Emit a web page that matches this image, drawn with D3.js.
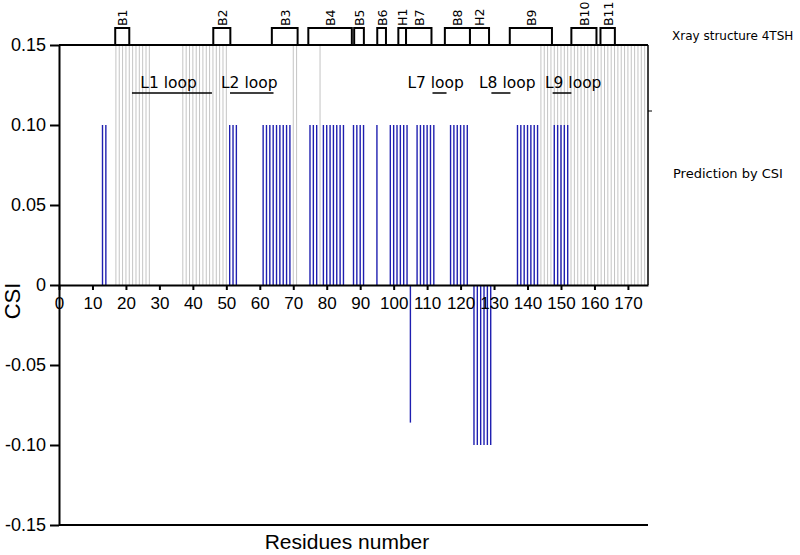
<!DOCTYPE html>
<html>
<head>
<meta charset="utf-8">
<script src="https://cdn.jsdelivr.net/npm/d3@7"></script>
<style>
  html, body { margin: 0; padding: 0; background: #fff; }
  svg { display: block; }
</style>
</head>
<body>
<svg id="chart" width="800" height="555"></svg>
<script>
// ---------------- DATA ----------------
// Residues marked in grey (X-ray structure loop regions), drawn to 0.15
const grayResidues = [17,18,19,20,21,22,23,24,25,26,27,
  37,38,39,40,41,42,43,44,45,46,47,48,49,50,
  70,71,78,
  144,145,146,147,148,149,150,151,152,153,154,155,156,157,158,159,160,
  161,162,163,164,165,166,167,168,169,170,171,172,173,174,175];
const grayValue = 0.15;

// CSI prediction bars (blue)
const csiResidues = [13,14,51,52,53,61,62,63,64,65,66,67,68,69,
  75,76,77,79,80,81,82,83,84,85,88,89,90,91,95,
  99,100,101,102,103,104,105,107,108,109,110,111,112,
  117,118,119,120,121,122,124,125,126,127,128,129,
  137,138,139,140,141,142,143,148,149,150,151,152];
const csiValues = [0.1,0.1,0.1,0.1,0.1,0.1,0.1,0.1,0.1,0.1,0.1,0.1,0.1,0.1,
  0.1,0.1,0.1,0.1,0.1,0.1,0.1,0.1,0.1,0.1,0.1,0.1,0.1,0.1,0.1,
  0.1,0.1,0.1,0.1,0.1,0.1,-0.086,0.1,0.1,0.1,0.1,0.1,0.1,
  0.1,0.1,0.1,0.1,0.1,0.1,-0.1,-0.1,-0.1,-0.1,-0.1,-0.1,
  0.1,0.1,0.1,0.1,0.1,0.1,0.1,0.1,0.1,0.1,0.1,0.1];

// Secondary structure elements (X-ray structure 4TSH)
const structLabels = ["B1","B2","B3","B4","B5","B6","H1","B7","B8","H2","B9","B10","B11"];
const structStart  = [16.8, 46.1, 63.6, 74.5, 88.2, 95.1, 101.4, 103.7, 115.3, 122.8, 134.7, 153.1, 161.8];
const structEnd    = [21.0, 51.2, 71.3, 87.5, 91.1, 97.7, 103.7, 111.3, 122.8, 128.5, 147.3, 160.6, 166.1];

// Loop annotations
const loopLabels    = ["L1 loop","L2 loop","L7 loop","L8 loop","L9 loop"];
const loopTextStart = [24.3, 48.4, 104.1, 125.5, 145.2];
const loopLineStart = [21.8, 51.1, 111.6, 129.2, 147.5];
const loopLineEnd   = [45.7, 64.1, 115.8, 134.9, 153.1];

const xTicks = [0,10,20,30,40,50,60,70,80,90,100,110,120,130,140,150,160,170];
const yTicks = [0.15,0.10,0.05,0,-0.05,-0.10,-0.15];
const yTickLabels = ["0.15","0.10","0.05","0","-0.05","-0.10","-0.15"];

// ---------------- LAYOUT ----------------
const svg = d3.select("#chart");
const pL = 59, pR = 648, pT = 45, pB = 525;
const x = d3.scaleLinear().domain([0, 176]).range([pL, pR]);
const y = d3.scaleLinear().domain([-0.15, 0.15]).range([pB, pT]);

const blue = "#1f1fb0";
const gray = "#c4c4c4";
const sans = "'Liberation Sans', Arial, sans-serif";
const verd = "'DejaVu Sans', Verdana, sans-serif";

// grey bars
svg.append("g").selectAll("line").data(grayResidues).join("line")
  .attr("x1", d => x(d)).attr("x2", d => x(d))
  .attr("y1", y(0)).attr("y2", y(grayValue))
  .attr("stroke", gray).attr("stroke-width", 1);

// blue CSI bars
svg.append("g").selectAll("line").data(csiResidues.map((r, i) => ({r, v: csiValues[i]}))).join("line")
  .attr("x1", d => x(d.r)).attr("x2", d => x(d.r))
  .attr("y1", y(0)).attr("y2", d => y(d.v))
  .attr("stroke", blue).attr("stroke-width", 1.4);

// Frame: top, right, bottom
svg.append("line").attr("x1", pL).attr("x2", pR).attr("y1", pT).attr("y2", pT)
  .attr("stroke", "#000").attr("stroke-width", 2);
svg.append("line").attr("x1", pR).attr("x2", pR).attr("y1", pT).attr("y2", y(0))
  .attr("stroke", "#000").attr("stroke-width", 1.5);
svg.append("line").attr("x1", pR).attr("x2", pR + 4).attr("y1", 111).attr("y2", 111)
  .attr("stroke", "#000").attr("stroke-width", 1);
svg.append("line").attr("x1", pL).attr("x2", pR).attr("y1", pB).attr("y2", pB)
  .attr("stroke", "#000").attr("stroke-width", 2);

// Y axis
const yAxis = d3.axisLeft(y).tickValues(yTicks).tickSize(9).tickSizeOuter(0).tickPadding(4)
  .tickFormat((d, i) => yTickLabels[i]);
const gy = svg.append("g").attr("transform", `translate(${pL},0)`).call(yAxis);
gy.select(".domain").attr("stroke-width", 2);
gy.selectAll(".tick line").attr("stroke-width", 2);
gy.selectAll("text").attr("font-family", sans).attr("font-size", 18).attr("fill", "#000");

// X axis on zero line
const xAxis = d3.axisBottom(x).tickValues(xTicks).tickSize(5).tickSizeOuter(0).tickPadding(7);
const gx = svg.append("g").attr("transform", `translate(0,${y(0)})`).call(xAxis);
gx.select(".domain").attr("stroke-width", 2);
gx.selectAll(".tick line").attr("stroke-width", 2);
gx.selectAll("text").attr("font-family", sans).attr("font-size", 17).attr("fill", "#000");

// Secondary-structure boxes
const sg = svg.append("g");
structLabels.forEach((lab, i) => {
  const x0 = x(structStart[i]), x1 = x(structEnd[i]);
  sg.append("rect").attr("x", x0).attr("y", pT - 17).attr("width", x1 - x0).attr("height", 17)
    .attr("fill", "#fff").attr("stroke", "#000").attr("stroke-width", 2);
  sg.append("text")
    .attr("transform", `translate(${(x0 + x1) / 2 + 5},${pT - 19}) rotate(-90)`)
    .attr("font-family", verd).attr("font-size", 12.5).attr("fill", "#000")
    .text(lab);
});

// Loop labels
const lg = svg.append("g");
loopLabels.forEach((lab, i) => {
  lg.append("text").attr("x", x(loopTextStart[i])).attr("y", 88)
    .attr("font-family", verd).attr("font-size", 15.5).attr("fill", "#000").text(lab);
  lg.append("line").attr("x1", x(loopLineStart[i])).attr("x2", x(loopLineEnd[i]))
    .attr("y1", 93).attr("y2", 93).attr("stroke", "#000").attr("stroke-width", 1.5);
});

// Side labels
svg.append("text").attr("x", 672).attr("y", 40).attr("font-family", verd).attr("font-size", 12)
  .attr("fill", "#000").text("Xray structure 4TSH");
svg.append("text").attr("x", 673).attr("y", 178).attr("font-family", verd).attr("font-size", 13)
  .attr("fill", "#000").text("Prediction by CSI");

// Axis titles
svg.append("text").attr("transform", `translate(20,301) rotate(-90)`).attr("text-anchor", "middle")
  .attr("font-family", sans).attr("font-size", 22).attr("fill", "#000").text("CSI");
svg.append("text").attr("x", 347).attr("y", 549).attr("text-anchor", "middle")
  .attr("font-family", sans).attr("font-size", 21).attr("fill", "#000").text("Residues number");
</script>
</body>
</html>
